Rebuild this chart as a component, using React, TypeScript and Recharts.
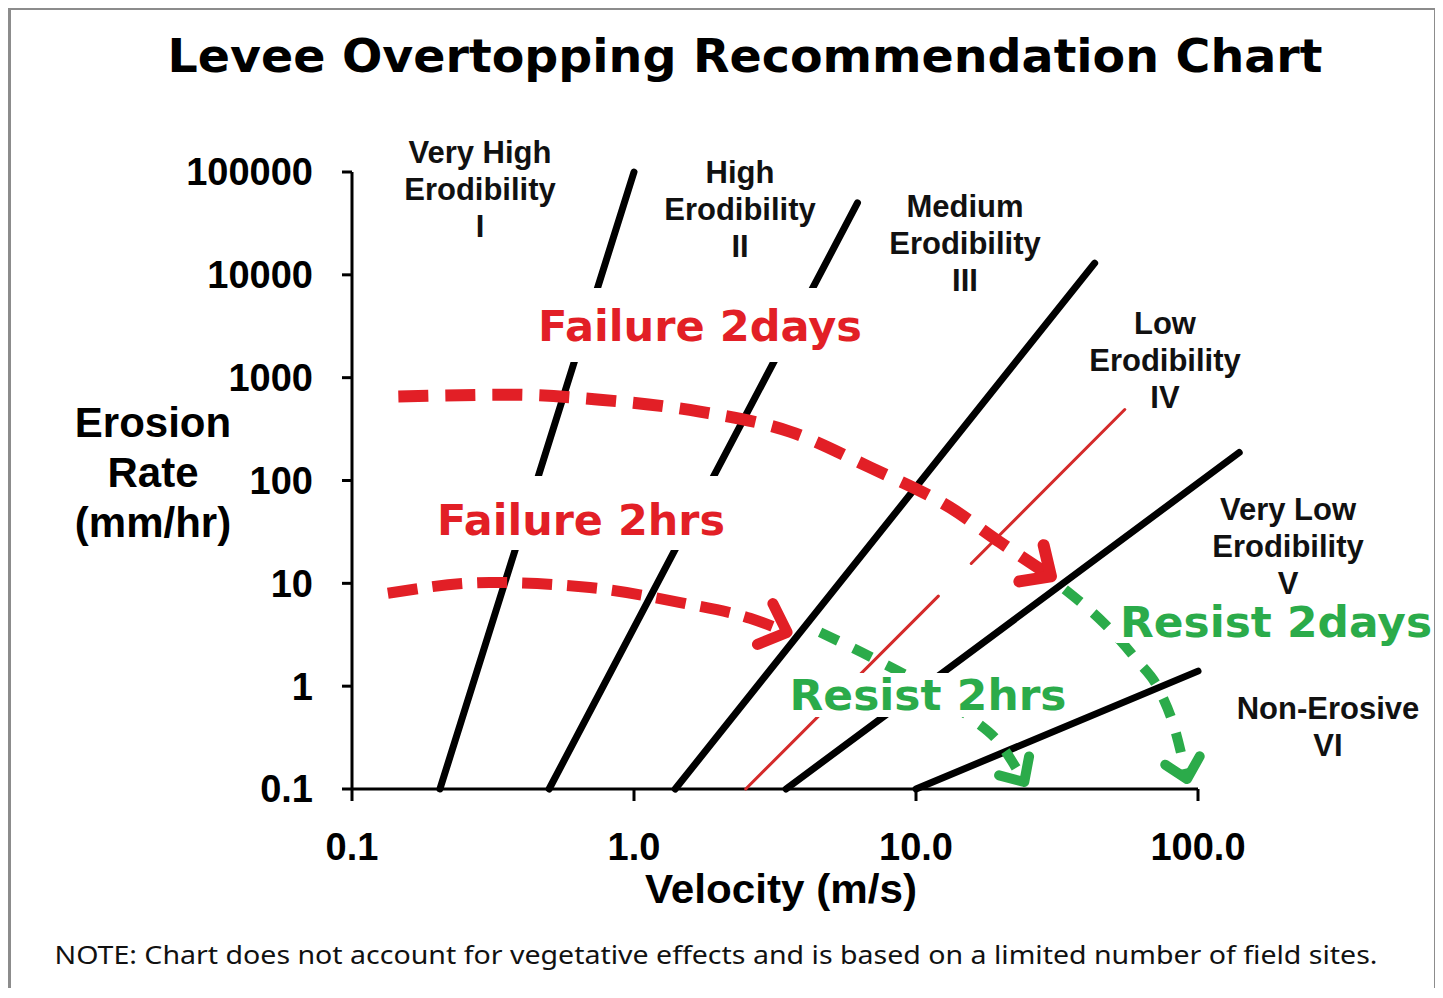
import React from "react";
import { LineChart, Line, XAxis, YAxis, ReferenceLine } from "recharts";

// axis ticks
const xTicks = [0.1, 1, 10, 100];
const xTickLabels = ["0.1", "1.0", "10.0", "100.0"];
const yTicks = [0.1, 1, 10, 100, 1000, 10000, 100000];
const yTickLabels = ["0.1", "1", "10", "100", "1000", "10000", "100000"];

// erodibility class boundaries: velocity (m/s) and erosion rate (mm/hr) at both ends
const lineIVel = [0.205, 1.0];
const lineIRate = [0.1, 100000];
const lineIIVel = [0.5, 6.2];
const lineIIRate = [0.1, 50000];
const lineIIIVel = [1.4, 43];
const lineIIIRate = [0.1, 13000];
const lineIVLowVel = [2.49, 12];
const lineIVLowRate = [0.1, 7.5];
const lineIVHighVel = [15.7, 55];
const lineIVHighRate = [15.6, 490];
const lineVVel = [3.46, 140];
const lineVRate = [0.1, 187];
const lineVIVel = [10, 100];
const lineVIRate = [0.1, 1.4];

// recommendation curves
const failure2daysVel = [0.146, 0.363, 0.757, 1.71, 3.57, 6.87, 13.2, 19.9, 30.1];
const failure2daysRate = [655, 684, 611, 468, 299, 134, 54.7, 25, 11.7];
const failure2hrsVel = [0.134, 0.308, 0.698, 1.46, 2.58, 3.49];
const failure2hrsRate = [8.0, 10.2, 9.1, 6.5, 4.57, 3.34];
const resist2hrsVel = [4.57, 7.16, 11.2, 15.5, 19.9, 24.2];
const resist2hrsRate = [3.34, 1.83, 0.935, 0.5, 0.274, 0.117];
const resist2daysVel = [33.7, 46.8, 60.3, 73.3, 82.8, 91.4];
const resist2daysRate = [8.75, 4.0, 1.83, 0.89, 0.38, 0.125];

const zip = (v: number[], r: number[]) => v.map((x, i) => ({ x, y: r[i] }));

const RED = "#e21f26";
const GREEN = "#2bab4a";
const ARIAL = "'Liberation Sans', Arial, sans-serif";
const HEAVY = "'DejaVu Sans', Verdana, sans-serif";

const W = 1425;
const H = 980;

function arrowDot(color: string, count: number, width: number, arm: number, fallback: number) {
  return (props: any) => {
    const { cx, cy, index, points } = props;
    if (index !== count - 1 || cx == null) return <g key={`d-${index}`} />;
    let ang = fallback;
    if (points && points.length > 1) {
      const p = points[points.length - 2];
      ang = Math.atan2(cy - p.y, cx - p.x);
    }
    const back = ang + Math.PI;
    const a1 = [cx + arm * Math.cos(back + 0.75), cy + arm * Math.sin(back + 0.75)];
    const a2 = [cx + arm * Math.cos(back - 0.75), cy + arm * Math.sin(back - 0.75)];
    return (
      <path
        key={`d-${index}`}
        d={`M${a1[0]},${a1[1]} L${cx},${cy} L${a2[0]},${a2[1]}`}
        fill="none"
        stroke={color}
        strokeWidth={width}
        strokeLinecap="round"
        strokeLinejoin="round"
      />
    );
  };
}

const regionLabels = [
  { lines: ["Very High", "Erodibility", "I"], x: 480, y: 152 },
  { lines: ["High", "Erodibility", "II"], x: 740, y: 172 },
  { lines: ["Medium", "Erodibility", "III"], x: 965, y: 206 },
  { lines: ["Low", "Erodibility", "IV"], x: 1165, y: 323 },
  { lines: ["Very Low", "Erodibility", "V"], x: 1288, y: 509 },
  { lines: ["Non-Erosive", "VI"], x: 1328, y: 708 },
];

const curveLabels = [
  { text: "Failure 2days", color: RED, x: 700, y: 326, len: 324, box: [530, 288, 340, 74] },
  { text: "Failure 2hrs", color: RED, x: 581, y: 520, len: 288, box: [430, 476, 300, 74] },
  { text: "Resist 2hrs", color: GREEN, x: 928, y: 695, len: 277, box: [784, 673, 288, 44] },
  { text: "Resist 2days", color: GREEN, x: 1276, y: 622, len: 312, box: [1116, 603, 318, 40] },
];

function Overlay() {
  return (
    <svg
      width={1435}
      height={990}
      style={{ position: "absolute", left: 0, top: 0, pointerEvents: "none", overflow: "visible" }}
    >
      <g transform="translate(-8,-8)">
        {/* picture frame */}
        <path d="M9.5,998 V8.5 H1435.5 V998" fill="none" stroke="#8c8c8c" strokeWidth={3} />
        <line x1={9} y1={988.5} x2={1435} y2={988.5} stroke="#e2e2e2" strokeWidth={1} />
        <text x={745} y={55} dy="0.36em" textAnchor="middle" fontFamily={HEAVY} fontWeight={700}
          fontSize={47} textLength={1155} lengthAdjust="spacingAndGlyphs" fill="#000">
          Levee Overtopping Recommendation Chart
        </text>
        {["Erosion", "Rate", "(mm/hr)"].map((t, i) => (
          <text key={t} x={153} y={422 + i * 50} dy="0.36em" textAnchor="middle" fontFamily={ARIAL}
            fontWeight={700} fontSize={42} fill="#000">
            {t}
          </text>
        ))}
        <text x={781} y={888} dy="0.36em" textAnchor="middle" fontFamily={ARIAL} fontWeight={700}
          fontSize={41} textLength={272} lengthAdjust="spacingAndGlyphs" fill="#000">
          Velocity (m/s)
        </text>
        {regionLabels.map((r) =>
          r.lines.map((t, i) => (
            <text key={r.x + t} x={r.x} y={r.y + i * 37} dy="0.36em" textAnchor="middle"
              fontFamily={ARIAL} fontWeight={700} fontSize={31} fill="#111">
              {t}
            </text>
          ))
        )}
        {curveLabels.map((c) => (
          <g key={c.text}>
            <rect x={c.box[0]} y={c.box[1]} width={c.box[2]} height={c.box[3]} fill="#fff" />
            <text x={c.x} y={c.y} dy="0.36em" textAnchor="middle" fontFamily={HEAVY} fontWeight={700}
              fontSize={42} textLength={c.len} lengthAdjust="spacingAndGlyphs" fill={c.color}>
              {c.text}
            </text>
          </g>
        ))}
        <text x={716} y={955} dy="0.36em" textAnchor="middle" fontFamily="'Noto Sans', 'Open Sans', sans-serif"
          fontSize={25} textLength={1323} lengthAdjust="spacingAndGlyphs" fill="#111">
          NOTE: Chart does not account for vegetative effects and is based on a limited number of field sites.
        </text>
      </g>
    </svg>
  );
}

export default function App() {
  const solid = (data: { x: number; y: number }[], key: string, color = "#000", width = 7) => (
    <Line
      key={key}
      data={data}
      dataKey="y"
      type="linear"
      stroke={color}
      strokeWidth={width}
      strokeLinecap="round"
      dot={false}
      activeDot={false}
      isAnimationActive={false}
    />
  );
  const dashed = (
    vel: number[],
    rate: number[],
    key: string,
    color: string,
    width: number,
    dash: string,
    arm: number,
    fallback: number
  ) => (
    <Line
      key={key}
      data={zip(vel, rate)}
      dataKey="y"
      type="monotone"
      stroke={color}
      strokeWidth={width}
      strokeDasharray={dash}
      dot={arrowDot(color, vel.length, width, arm, fallback)}
      activeDot={false}
      isAnimationActive={false}
    />
  );

  return (
    <div style={{ position: "relative", width: W, height: H, background: "#fff" }}>
      <style>{"html, body { overflow: hidden; }"}</style>
      <div style={{ position: "absolute", left: 0, top: 0 }}>
        <LineChart width={W} height={H} margin={{ top: 164, right: 192.7, bottom: 119, left: 244 }}>
          <XAxis
            type="number"
            dataKey="x"
            scale="log"
            domain={[0.1, 141.25]}
            ticks={xTicks}
            interval={0}
            tickFormatter={(v: number) => xTickLabels[xTicks.indexOf(v)] ?? String(v)}
            height={80}
            axisLine={false}
            tickLine={{ stroke: "#000", strokeWidth: 3 }}
            tickSize={12}
            tickMargin={32}
            tick={{ fill: "#000", fontSize: 38, fontWeight: 700, fontFamily: ARIAL }}
          />
          <YAxis
            type="number"
            dataKey="y"
            scale="log"
            domain={[0.1, 100000]}
            ticks={yTicks}
            interval={0}
            tickFormatter={(v: number) => yTickLabels[yTicks.indexOf(v)] ?? String(v)}
            width={100}
            axisLine={{ stroke: "#000", strokeWidth: 3 }}
            tickLine={{ stroke: "#000", strokeWidth: 3 }}
            tickSize={10}
            tickMargin={29}
            tick={{ fill: "#000", fontSize: 38, fontWeight: 700, fontFamily: ARIAL }}
          />
          <ReferenceLine
            segment={[
              { x: 0.1, y: 0.1 },
              { x: 100, y: 0.1 },
            ]}
            stroke="#000"
            strokeWidth={3}
          />
          {solid(zip(lineIVel, lineIRate), "I")}
          {solid(zip(lineIIVel, lineIIRate), "II")}
          {solid(zip(lineIIIVel, lineIIIRate), "III")}
          {solid(zip(lineIVLowVel, lineIVLowRate), "IVa", "#d42a2a", 3)}
          {solid(zip(lineIVHighVel, lineIVHighRate), "IVb", "#d42a2a", 3)}
          {solid(zip(lineVVel, lineVRate), "V")}
          {solid(zip(lineVIVel, lineVIRate), "VI")}
          {dashed(failure2daysVel, failure2daysRate, "f2d", RED, 12, "30 17", 32, 0.6)}
          {dashed(failure2hrsVel, failure2hrsRate, "f2h", RED, 11, "30 15", 32, 0.35)}
          {dashed(resist2hrsVel, resist2hrsRate, "r2h", GREEN, 10, "20 17", 26, 1.0)}
          {dashed(resist2daysVel, resist2daysRate, "r2d", GREEN, 10, "20 17", 26, 1.3)}
        </LineChart>
      </div>
      <Overlay />
    </div>
  );
}
